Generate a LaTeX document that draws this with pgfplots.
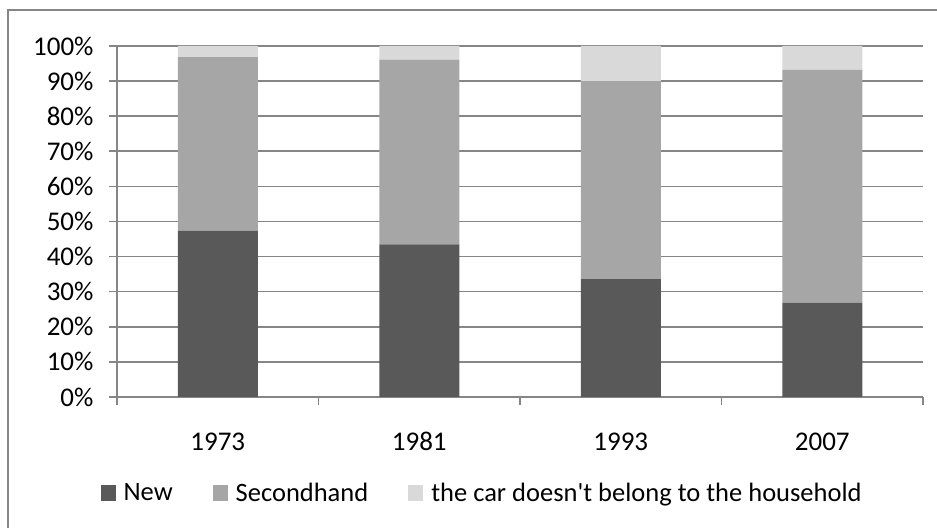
\documentclass[border=0pt]{standalone}
\usepackage{pgfplots}
\pgfplotsset{compat=1.18}
\usepackage{fontspec}
\setmainfont{Carlito}[Ligatures=TeXOff]
\definecolor{cnew}{HTML}{595959}
\definecolor{csec}{HTML}{A6A6A6}
\definecolor{coth}{HTML}{D9D9D9}
\definecolor{cgrid}{HTML}{868686}
\begin{document}
\begin{tikzpicture}[x=1bp,y=1bp]
\useasboundingbox (0,0) rectangle (937,528);
\draw[cgrid, line width=2bp] (8,-20) -- (8,518) -- (960,518);
\begin{axis}[
  at={(117bp,131bp)}, anchor=south west, scale only axis,
  width=806bp, height=351bp,
  xmin=-0.5, xmax=3.5, ymin=0, ymax=100,
  ybar stacked, bar width=80bp,
  xtick={0,1,2,3}, xticklabels={1973,1981,1993,2007},
  minor xtick={-0.5,0.5,1.5,2.5,3.5},
  ytick={0,10,...,100},
  yticklabels={0\%,10\%,20\%,30\%,40\%,50\%,60\%,70\%,80\%,90\%,100\%},
  ymajorgrids, grid style={cgrid,line width=1.6bp},
  axis x line*=bottom, axis y line*=left,
  axis line style={cgrid,line width=1.6bp,-},
  tick align=outside, major tick length=8bp, minor tick length=8bp,
  major x tick style={draw=none},
  tick style={cgrid,line width=1.6bp},
  ticklabel style={font=\fontsize{27bp}{31bp}\selectfont, black},
  yticklabel style={xshift=-12bp},
  xticklabel style={yshift=-24bp},
  legend style={at={(axis description cs:0.453,-0.2735)}, anchor=center, draw=none,
    legend columns=-1, font=\fontsize{26.5bp}{31bp}\selectfont,
    /tikz/every odd column/.append style={column sep=6bp},
    /tikz/every even column/.append style={column sep=38bp}},
  legend image code/.code={\fill[#1] (0bp,-8bp) rectangle (15bp,8bp);},
]
\addplot[fill=cnew,draw=none] coordinates {(0,47.4) (1,43.5) (2,33.6) (3,26.9)};
\addplot[fill=csec,draw=none] coordinates {(0,49.4) (1,52.6) (2,56.4) (3,66.3)};
\addplot[fill=coth,draw=none] coordinates {(0,3.2) (1,3.9) (2,10.0) (3,6.8)};
\legend{New,Secondhand,the car doesn't belong to the household}
\end{axis}
\end{tikzpicture}
\end{document}
